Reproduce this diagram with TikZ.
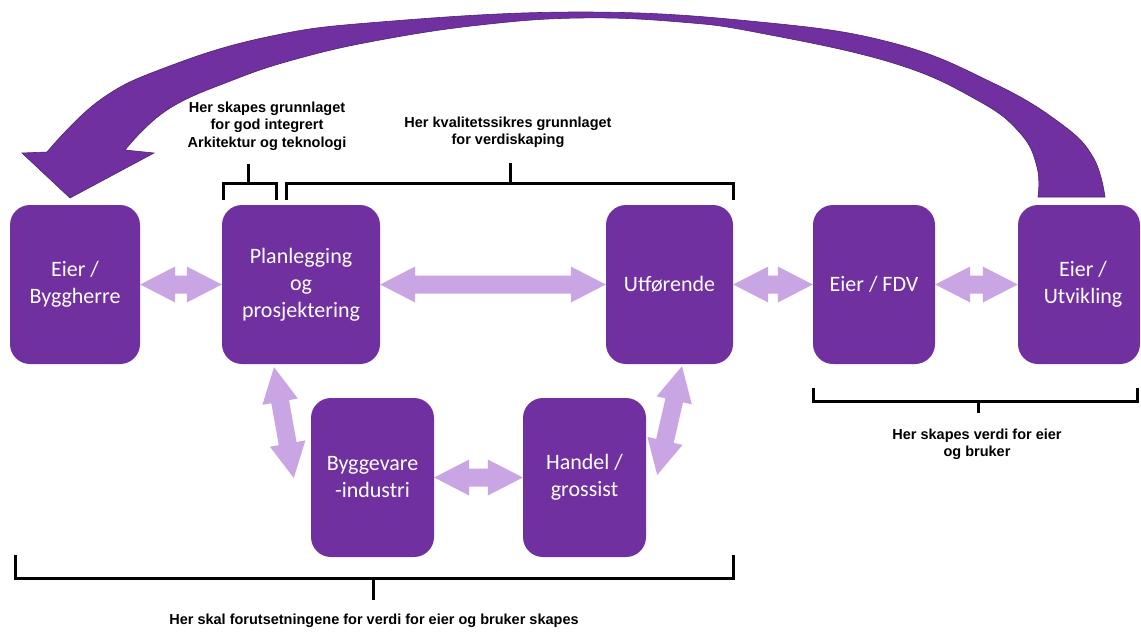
\documentclass[tikz,border=0pt]{standalone}
\usepackage{fontspec}
\setmainfont{Carlito}
\newfontfamily\labfont{Liberation Sans}
\usetikzlibrary{calc}
\definecolor{boxpurple}{HTML}{7030A0}
\definecolor{litepurple}{HTML}{C9A6E3}
\definecolor{arcedge}{HTML}{4F2272}
\tikzset{
  box/.style={fill=boxpurple, rounded corners=20pt, text=white, align=center,
    font=\fontsize{22}{27}\selectfont, inner sep=0pt, minimum height=159pt},
  lab/.style={font=\labfont\bfseries\fontsize{14.5}{17.5}\selectfont, align=center,
    inner sep=0pt, text=black},
  brace/.style={draw=black, line width=3pt},
  lite/.style={fill=litepurple},
}
\newcommand\dblarrow[2]{%
  \fill[lite] (#1)
    -- ($(#1)!35pt!(#2)!18pt!90:(#2)$)
    -- ($(#1)!35pt!(#2)!9pt!90:(#2)$)
    -- ($(#2)!35pt!(#1)!9pt!-90:(#1)$)
    -- ($(#2)!35pt!(#1)!18pt!-90:(#1)$)
    -- (#2)
    -- ($(#2)!35pt!(#1)!18pt!90:(#1)$)
    -- ($(#2)!35pt!(#1)!9pt!90:(#1)$)
    -- ($(#1)!35pt!(#2)!9pt!-90:(#2)$)
    -- ($(#1)!35pt!(#2)!18pt!-90:(#2)$)
    -- cycle;}
\begin{document}
\begin{tikzpicture}[x=1pt,y=-1pt]
\useasboundingbox (0,0) rectangle (1141,633);
\fill[white] (0,0) rectangle (1141,633);

% boxes
\node[box, minimum width=130pt] (eier) at (75,284.5) {Eier /\\Byggherre};
\node[box, minimum width=158pt] (plan) at (301,284.5) {Planlegging\\og\\prosjektering};
\node[box, minimum width=127pt] (utf) at (669.5,284.5) {Utførende};
\node[box, minimum width=122pt] (fdv) at (874,284.5) {Eier / FDV};
\node[box, minimum width=122pt] (utv) at (1079,284.5) {\hspace*{8pt}Eier /\\\hspace*{8pt}Utvikling};
\node[box, minimum width=123pt] (bygg) at (372.5,477.5) {Byggevare\\-industri};
\node[box, minimum width=123pt] (handel) at (584.5,477.5) {Handel /\\grossist};

% light double arrows
\dblarrow{eier.east}{plan.west}
\dblarrow{plan.east}{utf.west}
\dblarrow{utf.east}{fdv.west}
\dblarrow{fdv.east}{utv.west}
\dblarrow{bygg.east}{handel.west}
\coordinate (d1a) at ($(plan.south)+(-27,3)$);
\coordinate (d1b) at ($(bygg.west)+(-17,0.5)$);
\coordinate (d2a) at ($(utf.south)+(12.5,2)$);
\coordinate (d2b) at ($(handel.east)+(11,-2.5)$);
\dblarrow{d1a}{d1b}
\dblarrow{d2a}{d2b}

% big curved arrow
\fill[boxpurple, draw=arcedge, line width=0.6pt]
  plot[smooth, tension=0.7] coordinates {(1105,197) (1093,157) (1060,123) (993,83) (893,43) (760,22) (580,12) (380,22) (267,37) (167,67) (100,100) (47,152)}
  -- (22,153) -- (70,198) -- (154,153) -- (125,150)
  -- plot[smooth, tension=0.7] coordinates {(125,150) (167,110) (233,80) (300,58) (380,40) (480,25) (580,18) (680,22) (760,33) (893,63) (977,100) (1020,133) (1037,167) (1038,197)}
  -- cycle;

% labels
\node[lab] (l1) at (267,126) {Her skapes grunnlaget\\for god integrert\\Arkitektur og teknologi};
\node[lab] (l2) at (508,132.5) {Her kvalitetssikres grunnlaget\\for verdiskaping};
\node[lab] (l3) at (977,444.5) {Her skapes verdi for eier\\og bruker};
\node[lab] (l4) at (374,621) {Her skal forutsetningene for verdi for eier og bruker skapes};

% brackets
\draw[brace] (223,200) -- (223,183) -- (276,183) -- (276,200);
\draw[brace] (248,183) -- (248,164);
\draw[brace] (286,200) -- (286,183) -- (733,183) -- (733,200);
\draw[brace] (510,183) -- (510,163);
\draw[brace] (813,388) -- (813,401) -- (1137,401) -- (1137,388);
\draw[brace] (978,401) -- (978,413);
\draw[brace] (15,555) -- (15,578) -- (733,578) -- (733,555);
\draw[brace] (373,578) -- (373,600);
\end{tikzpicture}
\end{document}
